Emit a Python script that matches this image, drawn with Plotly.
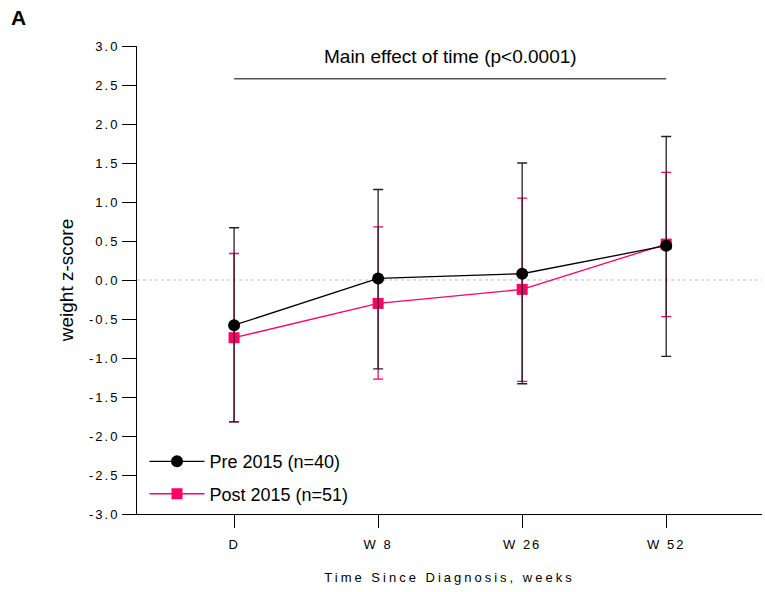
import plotly.graph_objects as go

categories = ["D", "W 8", "W 26", "W 52"]
pre_mean = [-0.58, 0.02, 0.08, 0.44]
pre_upper = [0.67, 1.16, 1.50, 1.84]
pre_lower = [-1.82, -1.14, -1.33, -0.98]
post_mean = [-0.74, -0.30, -0.12, 0.46]
post_upper = [0.34, 0.68, 1.05, 1.38]
post_lower = [-1.82, -1.27, -1.30, -0.47]
y_ticks = [3.0, 2.5, 2.0, 1.5, 1.0, 0.5, 0.0, -0.5, -1.0, -1.5, -2.0, -2.5, -3.0]

PINK = "#FF0066"
FONT = "Liberation Sans, Arial, sans-serif"

fig = go.Figure()
fig.add_trace(go.Scatter(
    x=categories, y=post_mean, mode="lines+markers", name="Post 2015 (n=51)",
    line=dict(color=PINK, width=1.3),
    marker=dict(symbol="square", size=11, color=PINK),
    error_y=dict(type="data", symmetric=False,
                 array=[u - m for u, m in zip(post_upper, post_mean)],
                 arrayminus=[m - l for m, l in zip(post_mean, post_lower)],
                 color=PINK, thickness=1.3, width=5),
    legendrank=2, legendgroup="post",
))
fig.add_trace(go.Scatter(
    x=categories, y=pre_mean, mode="lines+markers", name="Pre 2015 (n=40)",
    line=dict(color="black", width=1.3),
    marker=dict(symbol="circle", size=12, color="black"),
    error_y=dict(type="data", symmetric=False,
                 array=[u - m for u, m in zip(pre_upper, pre_mean)],
                 arrayminus=[m - l for m, l in zip(pre_mean, pre_lower)],
                 color="#222222", thickness=1.3, width=5),
    legendrank=1, legendgroup="pre",
))

fig.add_shape(type="line", xref="paper", x0=0, x1=1, yref="y", y0=0, y1=0,
              line=dict(color="#BBBBBB", width=1, dash="dot"), layer="below")
fig.add_shape(type="line", xref="x", x0=categories[0], x1=categories[-1], yref="y", y0=2.58, y1=2.58,
              line=dict(color="#555555", width=1.5))
fig.add_annotation(x=1.5, y=2.86, xref="x", yref="y", text="Main effect of time (p<0.0001)",
                   showarrow=False, font=dict(size=19, color="black", family=FONT))
fig.add_annotation(x=-0.205, y=1.06, xref="paper", yref="paper", text="<b>A</b>", showarrow=False,
                   xanchor="left", yanchor="middle",
                   font=dict(size=21, color="black", family=FONT))

fig.update_layout(
    width=765, height=592,
    margin=dict(l=137, r=3, t=46, b=78, autoexpand=False),
    plot_bgcolor="white", paper_bgcolor="white",
    font=dict(family=FONT, color="black"),
    showlegend=True,
    legend=dict(x=0.012, y=0.004, xanchor="left", yanchor="bottom",
                font=dict(size=18, family=FONT), bgcolor="rgba(0,0,0,0)",
                itemwidth=55, tracegroupgap=6),
    xaxis=dict(type="category", range=[-0.674, 3.665], showline=True, linecolor="black", linewidth=1,
               automargin=False,
               ticks="outside", ticklen=13, tickcolor="black", showgrid=False, zeroline=False,
               ticklabelstandoff=5,
               tickfont=dict(size=13, family=FONT),
               title=dict(text="Time Since Diagnosis, weeks", font=dict(size=13, family=FONT), standoff=22)),
    yaxis=dict(range=[-3, 3], tickvals=y_ticks, ticktext=[f"{v:.1f}" for v in y_ticks],
               showline=True, linecolor="black", linewidth=1, automargin=False,
               ticks="outside", ticklen=14, tickcolor="black", showgrid=False, zeroline=False,
               tickfont=dict(size=13, family=FONT),
               title=dict(text="weight z-score", font=dict(size=19, family=FONT), standoff=18)),
)

post_script = """
document.body.style.margin = '0';
document.body.style.overflow = 'hidden';
var gd = document.getElementById('{plot_id}');
function spaceOut() {
  gd.querySelectorAll('.xtick text, .ytick text').forEach(function(e){ e.style.letterSpacing = '2px'; });
  gd.querySelectorAll('.g-xtitle text').forEach(function(e){ e.style.letterSpacing = '3px'; });
}
spaceOut();
gd.on('plotly_afterplot', spaceOut);
"""

fig.write_html("out.html", post_script=post_script, config={"displayModeBar": False})
